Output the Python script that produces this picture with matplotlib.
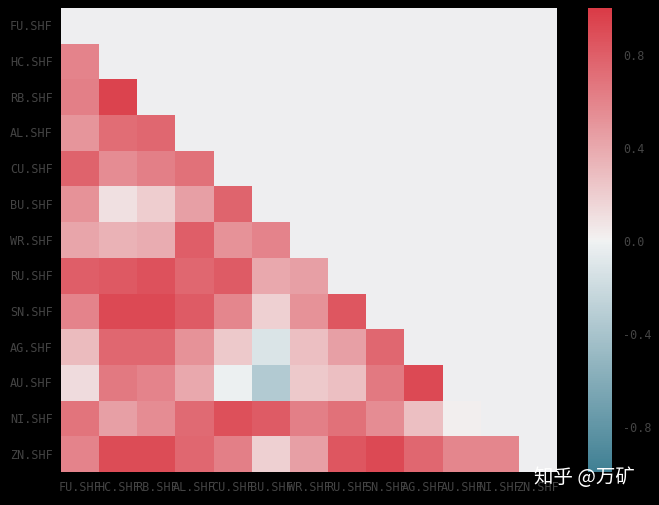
import numpy as np
import matplotlib
matplotlib.use('Agg')
import matplotlib.pyplot as plt
import seaborn as sns

plt.rcParams['axes.unicode_minus'] = False

names = ['FU.SHF', 'HC.SHF', 'RB.SHF', 'AL.SHF', 'CU.SHF', 'BU.SHF', 'WR.SHF',
         'RU.SHF', 'SN.SHF', 'AG.SHF', 'AU.SHF', 'NI.SHF', 'ZN.SHF']

# lower triangle of the correlation matrix, row by row
row_hc = [0.60]
row_rb = [0.62, 0.95]
row_al = [0.50, 0.72, 0.75]
row_cu = [0.78, 0.55, 0.62, 0.70]
row_bu = [0.52, 0.10, 0.20, 0.45, 0.77]
row_wr = [0.42, 0.35, 0.38, 0.80, 0.52, 0.60]
row_ru = [0.80, 0.83, 0.87, 0.75, 0.82, 0.40, 0.45]
row_sn = [0.60, 0.92, 0.92, 0.82, 0.58, 0.18, 0.52, 0.85]
row_ag = [0.30, 0.75, 0.75, 0.52, 0.22, -0.12, 0.28, 0.45, 0.75]
row_au = [0.12, 0.65, 0.60, 0.40, -0.02, -0.35, 0.22, 0.28, 0.65, 0.92]
row_ni = [0.68, 0.45, 0.55, 0.74, 0.88, 0.82, 0.62, 0.70, 0.55, 0.28, 0.02]
row_zn = [0.60, 0.90, 0.90, 0.75, 0.62, 0.18, 0.45, 0.85, 0.92, 0.75, 0.58, 0.58]

rows = [[], row_hc, row_rb, row_al, row_cu, row_bu, row_wr, row_ru,
        row_sn, row_ag, row_au, row_ni, row_zn]

n = len(names)
corr = np.eye(n)
for i, r in enumerate(rows):
    for j, v in enumerate(r):
        corr[i, j] = v
        corr[j, i] = v

mask = np.triu(np.ones_like(corr, dtype=bool))

fig = plt.figure(figsize=(6.59, 5.06), dpi=100)
fig.patch.set_facecolor('black')
ax = fig.add_axes([0.0926, 0.0652, 0.7527, 0.9170])
cax = fig.add_axes([0.892, 0.0652, 0.037, 0.9170])
ax.set_facecolor('#EEEEF0')

cmap = sns.diverging_palette(220, 10, as_cmap=True)
sns.heatmap(corr, mask=mask, cmap=cmap, vmin=-1, vmax=1, center=0,
            ax=ax, cbar_ax=cax, xticklabels=names, yticklabels=names)

lab_col = '#444444'
ax.tick_params(length=0, colors=lab_col, labelsize=8.5, pad=6)
for t in ax.get_xticklabels():
    t.set_rotation(0)
    t.set_family('DejaVu Sans Mono')
for t in ax.get_yticklabels():
    t.set_rotation(0)
    t.set_family('DejaVu Sans Mono')

cax.set_yticks([-0.8, -0.4, 0.0, 0.4, 0.8])
cax.tick_params(length=0, colors=lab_col, labelsize=8.5, pad=8)
for t in cax.get_yticklabels():
    t.set_family('DejaVu Sans Mono')
cbar = ax.collections[0].colorbar
if cbar is not None:
    cbar.outline.set_visible(False)

fig.text(0.810, 0.056, '知乎 @万矿', color='white', fontsize=14,
         family=['Noto Sans CJK SC', 'DejaVu Sans'], ha='left', va='center')

fig.savefig('out.png', dpi=100, facecolor='black')
